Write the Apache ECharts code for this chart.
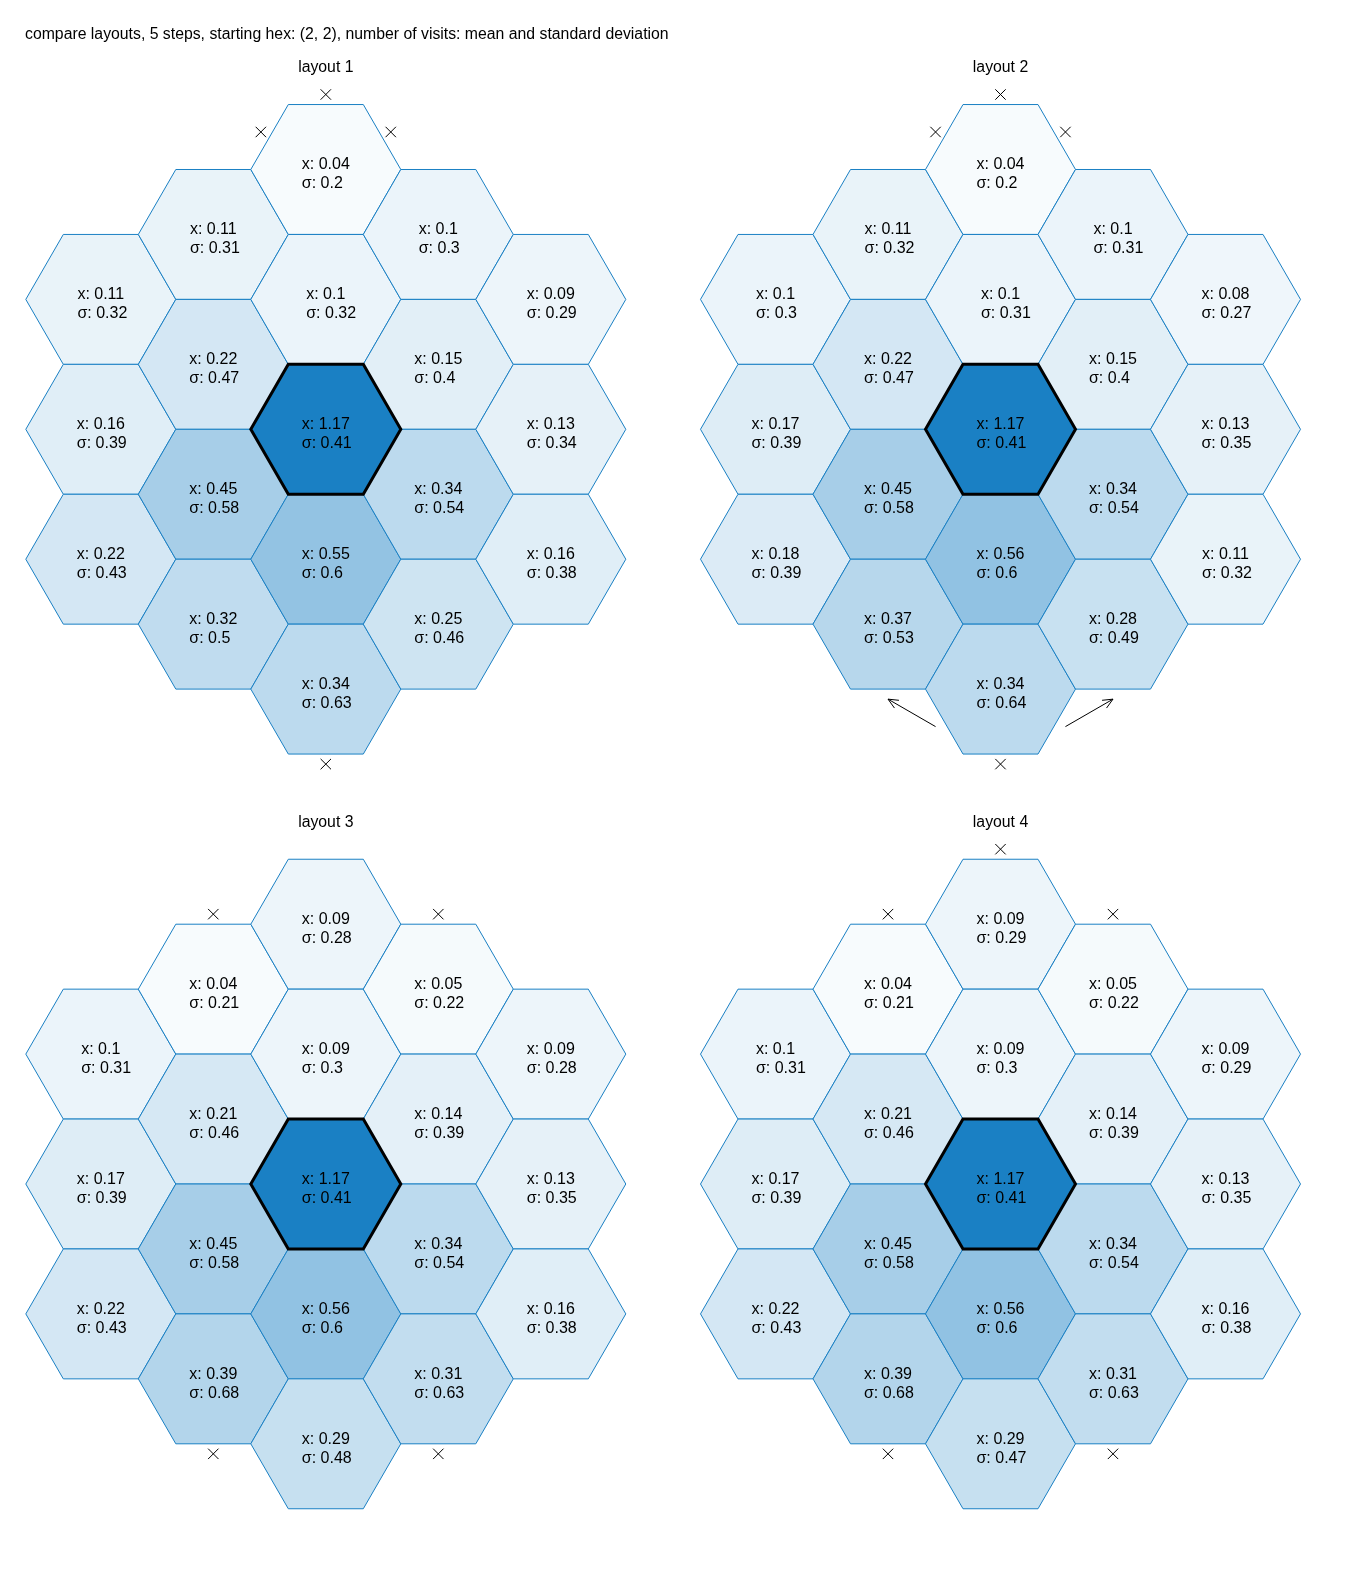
<!DOCTYPE html>
<html><head><meta charset="utf-8">
<script src="https://cdn.jsdelivr.net/npm/echarts@6/dist/echarts.min.js"></script>
<style>html,body{margin:0;padding:0;background:#fff}#c{width:1350px;height:1583px}</style>
</head><body><div id="c"></div>
<script>
// ---- data ----
const mainTitle = 'compare layouts, 5 steps, starting hex: (2, 2), number of visits: mean and standard deviation';
const layoutTitles = ['layout 1', 'layout 2', 'layout 3', 'layout 4'];
// hex cells: column index and vertical half-step index (up positive), column by column, top to bottom
const cellCol  = [-2, -2, -2, -1, -1, -1, -1, 0, 0, 0, 0, 0, 1, 1, 1, 1, 2, 2, 2];
const cellHalf = [ 2,  0, -2,  3,  1, -1, -3, 4, 2, 0, -2, -4, 3, 1, -1, -3, 2, 0, -2];

const mean1 = [0.11, 0.16, 0.22, 0.11, 0.22, 0.45, 0.32, 0.04, 0.1, 1.17, 0.55, 0.34, 0.1, 0.15, 0.34, 0.25, 0.09, 0.13, 0.16];
const std1  = [0.32, 0.39, 0.43, 0.31, 0.47, 0.58, 0.5, 0.2, 0.32, 0.41, 0.6, 0.63, 0.3, 0.4, 0.54, 0.46, 0.29, 0.34, 0.38];
const mean2 = [0.1, 0.17, 0.18, 0.11, 0.22, 0.45, 0.37, 0.04, 0.1, 1.17, 0.56, 0.34, 0.1, 0.15, 0.34, 0.28, 0.08, 0.13, 0.11];
const std2  = [0.3, 0.39, 0.39, 0.32, 0.47, 0.58, 0.53, 0.2, 0.31, 0.41, 0.6, 0.64, 0.31, 0.4, 0.54, 0.49, 0.27, 0.35, 0.32];
const mean3 = [0.1, 0.17, 0.22, 0.04, 0.21, 0.45, 0.39, 0.09, 0.09, 1.17, 0.56, 0.29, 0.05, 0.14, 0.34, 0.31, 0.09, 0.13, 0.16];
const std3  = [0.31, 0.39, 0.43, 0.21, 0.46, 0.58, 0.68, 0.28, 0.3, 0.41, 0.6, 0.48, 0.22, 0.39, 0.54, 0.63, 0.28, 0.35, 0.38];
const mean4 = [0.1, 0.17, 0.22, 0.04, 0.21, 0.45, 0.39, 0.09, 0.09, 1.17, 0.56, 0.29, 0.05, 0.14, 0.34, 0.31, 0.09, 0.13, 0.16];
const std4  = [0.31, 0.39, 0.43, 0.21, 0.46, 0.58, 0.68, 0.29, 0.3, 0.41, 0.6, 0.47, 0.22, 0.39, 0.54, 0.63, 0.29, 0.35, 0.38];

// blocked exits: [column, half-step, direction]
const blocked1 = [[0, 4, 'n'], [0, 4, 'nw'], [0, 4, 'ne'], [0, -4, 's']];
const blocked2 = [[0, 4, 'n'], [0, 4, 'nw'], [0, 4, 'ne'], [0, -4, 's']];
const blocked3 = [[-1, 3, 'n'], [1, 3, 'n'], [-1, -3, 's'], [1, -3, 's']];
const blocked4 = [[0, 4, 'n'], [-1, 3, 'n'], [1, 3, 'n'], [-1, -3, 's'], [1, -3, 's']];
// wrap-around exits: [fromCol, fromHalf, fromDir, toCol, toHalf, toDir]
const arrows1 = [];
const arrows2 = [[0, -4, 'sw', -1, -3, 's'], [0, -4, 'se', 1, -3, 's']];
const arrows3 = [];
const arrows4 = [];

const means = [mean1, mean2, mean3, mean4];
const stds = [std1, std2, std3, std4];
const blocked = [blocked1, blocked2, blocked3, blocked4];
const arrows = [arrows1, arrows2, arrows3, arrows4];

// ---- layout ----
const SQ3 = Math.sqrt(3);
const R = 75;
const centers = [[325.8, 429.3], [1000.5, 429.3], [325.8, 1184], [1000.5, 1184]];
const FAMILY = '"Liberation Sans", Arial, sans-serif';
const FONT = '16px ' + FAMILY;
const dirAngle = { n: 90, ne: 30, nw: 150, s: 270, se: 330, sw: 210 };
function cellXY(c, h) { return [c * 1.5, h * SQ3 / 2]; }
function exitXY(c, h, d) {
  const p = cellXY(c, h), a = dirAngle[d] * Math.PI / 180;
  return [p[0] + Math.cos(a), p[1] + Math.sin(a)];
}
const measureCtx = document.createElement('canvas').getContext('2d');
measureCtx.font = FONT;

const grids = [], xAxes = [], yAxes = [], series = [], titles = [];
titles.push({ text: mainTitle, left: 25, top: 35, padding: 0, textAlign: 'left', textVerticalAlign: 'middle',
  textStyle: { fontFamily: FAMILY, fontSize: 15.8, fontWeight: 'normal', color: '#000' } });
const hexSeriesIdx = [];
for (let i = 0; i < 4; i++) {
  const [cx, cy] = centers[i];
  grids.push({ left: cx - 4 * R, top: cy - 5 * R, width: 8 * R, height: 10 * R });
  xAxes.push({ type: 'value', gridIndex: i, min: -4, max: 4, show: false });
  yAxes.push({ type: 'value', gridIndex: i, min: -5, max: 5, show: false });
  titles.push({ text: layoutTitles[i], left: cx, top: cy - 361.7, padding: 0, textAlign: 'center', textVerticalAlign: 'middle',
    textStyle: { fontFamily: FAMILY, fontSize: 15.8, fontWeight: 'normal', color: '#000' } });
  const data = cellCol.map((c, k) => {
    const p = cellXY(c, cellHalf[k]);
    return [p[0], p[1], means[i][k], stds[i][k], (c === 0 && cellHalf[k] === 0) ? 1 : 0];
  });
  hexSeriesIdx.push(series.length);
  series.push({
    type: 'custom', xAxisIndex: i, yAxisIndex: i, silent: true, animation: false,
    encode: { x: 0, y: 1 },
    data: data,
    renderItem: function (params, api) {
      const x = api.value(0), y = api.value(1);
      const isC = api.value(4) === 1;
      const pts = [];
      for (let k = 0; k < 6; k++) {
        const a = k * Math.PI / 3;
        pts.push(api.coord([x + Math.cos(a), y + Math.sin(a)]));
      }
      const c = api.coord([x, y]);
      const l1 = 'x: ' + api.value(2), l2 = 'σ: ' + api.value(3);
      const w1 = measureCtx.measureText(l1).width;
      return {
        type: 'group', children: [
          { type: 'polygon', z2: isC ? 10 : 1, shape: { points: pts },
            style: { fill: api.visual('color'), stroke: isC ? '#000' : '#1a80c4', lineWidth: isC ? 3 : 1, lineJoin: 'miter' } },
          { type: 'text', z2: 20, style: { text: l1 + '\n' + l2, x: c[0] - w1 / 2, y: c[1] + 4.8, fill: '#000',
            font: FONT, align: 'left', verticalAlign: 'middle', lineHeight: 19 } }
        ]
      };
    }
  });
  series.push({
    type: 'custom', xAxisIndex: i, yAxisIndex: i, silent: true, animation: false, z: 5,
    encode: { x: 0, y: 1 },
    data: blocked[i].map(b => exitXY(b[0], b[1], b[2])),
    renderItem: function (params, api) {
      const p = api.coord([api.value(0), api.value(1)]);
      const s = 5.2;
      return { type: 'group', children: [
        { type: 'line', shape: { x1: p[0] - s, y1: p[1] - s, x2: p[0] + s, y2: p[1] + s }, style: { stroke: '#000', lineWidth: 1 } },
        { type: 'line', shape: { x1: p[0] - s, y1: p[1] + s, x2: p[0] + s, y2: p[1] - s }, style: { stroke: '#000', lineWidth: 1 } }
      ] };
    }
  });
  if (arrows[i].length) {
    series.push({
      type: 'custom', xAxisIndex: i, yAxisIndex: i, silent: true, animation: false, z: 5,
      encode: { x: 0, y: 1 },
      data: arrows[i].map(a => exitXY(a[0], a[1], a[2]).concat(exitXY(a[3], a[4], a[5]))),
      renderItem: function (params, api) {
        const p0 = api.coord([api.value(0), api.value(1)]);
        const p1 = api.coord([api.value(2), api.value(3)]);
        const ang = Math.atan2(p0[1] - p1[1], p0[0] - p1[0]);
        const hl = 11, ha = 24 * Math.PI / 180;
        const w1 = [p1[0] + hl * Math.cos(ang + ha), p1[1] + hl * Math.sin(ang + ha)];
        const w2 = [p1[0] + hl * Math.cos(ang - ha), p1[1] + hl * Math.sin(ang - ha)];
        return { type: 'group', children: [
          { type: 'line', shape: { x1: p0[0], y1: p0[1], x2: p1[0], y2: p1[1] }, style: { stroke: '#000', lineWidth: 1 } },
          { type: 'polyline', shape: { points: [w1, p1, w2] }, style: { stroke: '#000', lineWidth: 1, fill: null } }
        ] };
      }
    });
  }
}

const chart = echarts.init(document.getElementById('c'), null, { renderer: 'canvas' });
chart.setOption({
  backgroundColor: '#ffffff',
  animation: false,
  title: titles,
  grid: grids,
  xAxis: xAxes,
  yAxis: yAxes,
  visualMap: { type: 'continuous', show: false, min: 0, max: 1.17, dimension: 2, seriesIndex: hexSeriesIdx,
    inRange: { color: ['#ffffff', '#1a80c4'] } },
  series: series
});
</script>
</body></html>
